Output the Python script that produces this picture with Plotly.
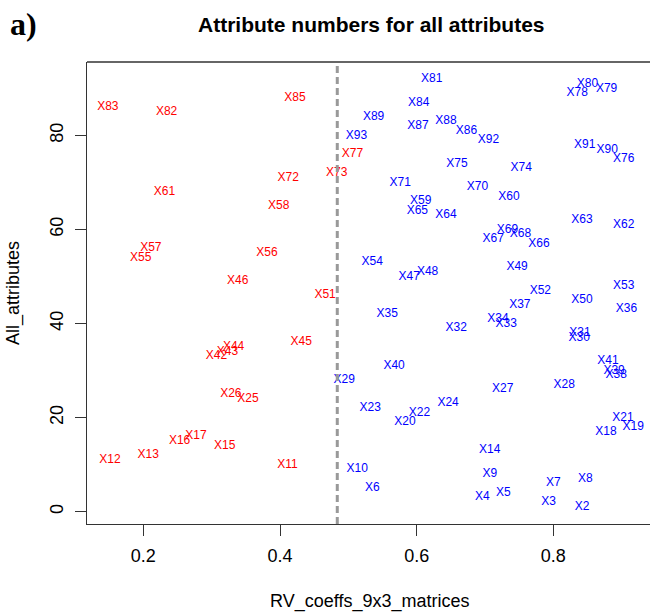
import plotly.graph_objects as go

# ---- data ----
labels = ["X%d" % i for i in range(2, 94)]
rv_coeffs = [
    0.842, 0.793, 0.696, 0.727, 0.535, 0.800, 0.847, 0.707, 0.513, 0.411,   # X2-X11
    0.151, 0.207, 0.707, 0.319, 0.253, 0.277, 0.877, 0.917, 0.583, 0.902,   # X12-X21
    0.604, 0.532, 0.646, 0.353, 0.328, 0.726, 0.816, 0.494, 0.838, 0.839,   # X22-X31
    0.658, 0.731, 0.719, 0.557, 0.907, 0.751, 0.892, 0.889, 0.567, 0.880,   # X32-X41
    0.307, 0.323, 0.332, 0.431, 0.338, 0.589, 0.616, 0.747, 0.842, 0.466,   # X42-X51
    0.781, 0.903, 0.535, 0.196, 0.381, 0.211, 0.398, 0.606, 0.735, 0.231,   # X52-X61
    0.903, 0.842, 0.643, 0.601, 0.779, 0.712, 0.752, 0.733, 0.689, 0.576,   # X62-X71
    0.412, 0.483, 0.753, 0.659, 0.903, 0.506, 0.835, 0.878, 0.850, 0.622,   # X72-X81
    0.234, 0.148, 0.603, 0.422, 0.673, 0.602, 0.643, 0.537, 0.879, 0.846,   # X82-X91
    0.705, 0.512,                                                           # X92-X93
]
all_attributes = [
    1, 2, 3, 4, 5, 6, 7, 8, 9, 10,            # X2-X11
    11, 12, 13, 14, 15, 16, 17, 18, 19, 20,   # X12-X21
    21, 22, 23, 24, 25, 26, 27, 28, 37, 38,   # X22-X31
    39, 40, 41, 42, 43, 44, 29, 30, 31, 32,   # X32-X41
    33, 34, 35, 36, 49, 50, 51, 52, 45, 46,   # X42-X51
    47, 48, 53, 54, 55, 56, 65, 66, 67, 68,   # X52-X61
    61, 62, 63, 64, 57, 58, 59, 60, 69, 70,   # X62-X71
    71, 72, 73, 74, 75, 76, 89, 90, 91, 92,   # X72-X81
    85, 86, 87, 88, 81, 82, 83, 84, 77, 78,   # X82-X91
    79, 80,                                   # X92-X93
]
red_group = ["X11", "X12", "X13", "X15", "X16", "X17", "X25", "X26", "X42", "X43",
             "X44", "X45", "X46", "X51", "X55", "X56", "X57", "X58", "X61", "X72",
             "X73", "X77", "X82", "X83", "X85"]
cutoff = 0.4838
x_ticks = [0.2, 0.4, 0.6, 0.8]
y_ticks = [0, 20, 40, 60, 80]

colors = ["#FF0000" if lab in red_group else "#0000FF" for lab in labels]

FONT = "Liberation Sans, Arial, Helvetica, sans-serif"

fig = go.Figure()
fig.add_trace(go.Scatter(
    x=rv_coeffs, y=all_attributes, mode="text", text=labels,
    textposition="middle center",
    textfont=dict(family=FONT, size=12, color=colors),
    hoverinfo="skip", showlegend=False, cliponaxis=False,
))

# plot area in pixels
W, H = 650, 616
L, R, T, B = 87, 0, 62, 92
pw, ph = W - L - R, H - T - B


def px_x(p):
    return (p - L) / pw


def px_y(p):
    return (H - B - p) / ph


fig.add_shape(type="line", xref="x", yref="paper", x0=cutoff, x1=cutoff, y0=0, y1=1,
              line=dict(color="#999999", width=3, dash="7px,4px"), layer="above")
fig.add_shape(type="line", xref="paper", yref="paper", x0=0, x1=1.01, y0=1, y1=1,
              line=dict(color="#333333", width=1.3))

fig.update_layout(
    width=W, height=H,
    margin=dict(l=L, r=R, t=T, b=B, pad=0),
    paper_bgcolor="white", plot_bgcolor="white",
    font=dict(family=FONT, size=18, color="black"),
    xaxis=dict(range=[0.1175, 0.9415], tickvals=x_ticks, ticktext=[str(v) for v in x_ticks],
               ticks="outside", ticklen=11, tickwidth=1, tickcolor="#333333",
               showline=True, linecolor="#333333", linewidth=1.3, showgrid=False, zeroline=False,
               tickfont=dict(size=18), ticklabelstandoff=4),
    yaxis=dict(range=[-2.64, 95.64], tickvals=y_ticks, ticktext=[str(v) for v in y_ticks],
               ticks="outside", ticklen=11, tickwidth=1, tickcolor="#333333", tickangle=-90,
               showline=True, linecolor="#333333", linewidth=1.3, showgrid=False, zeroline=False,
               tickfont=dict(size=18), ticklabelstandoff=5),
    annotations=[
        dict(text="<b>Attribute numbers for all attributes</b>", xref="paper", yref="paper",
             x=px_x(371), y=px_y(24), showarrow=False, xanchor="center", yanchor="middle",
             font=dict(family=FONT, size=21, color="black")),
        dict(text="<b>a)</b>", xref="paper", yref="paper",
             x=px_x(23), y=px_y(24), showarrow=False, xanchor="center", yanchor="middle",
             font=dict(family="Liberation Serif, Times New Roman, serif", size=32, color="black")),
        dict(text="RV_coeffs_9x3_matrices", xref="paper", yref="paper",
             x=px_x(370), y=px_y(601), showarrow=False, xanchor="center", yanchor="middle",
             font=dict(family=FONT, size=18, color="black")),
        dict(text="All_attributes", xref="paper", yref="paper", textangle=-90,
             x=px_x(13), y=px_y(293), showarrow=False, xanchor="center", yanchor="middle",
             font=dict(family=FONT, size=18, color="black")),
    ],
)

fig.write_html("out.html")
